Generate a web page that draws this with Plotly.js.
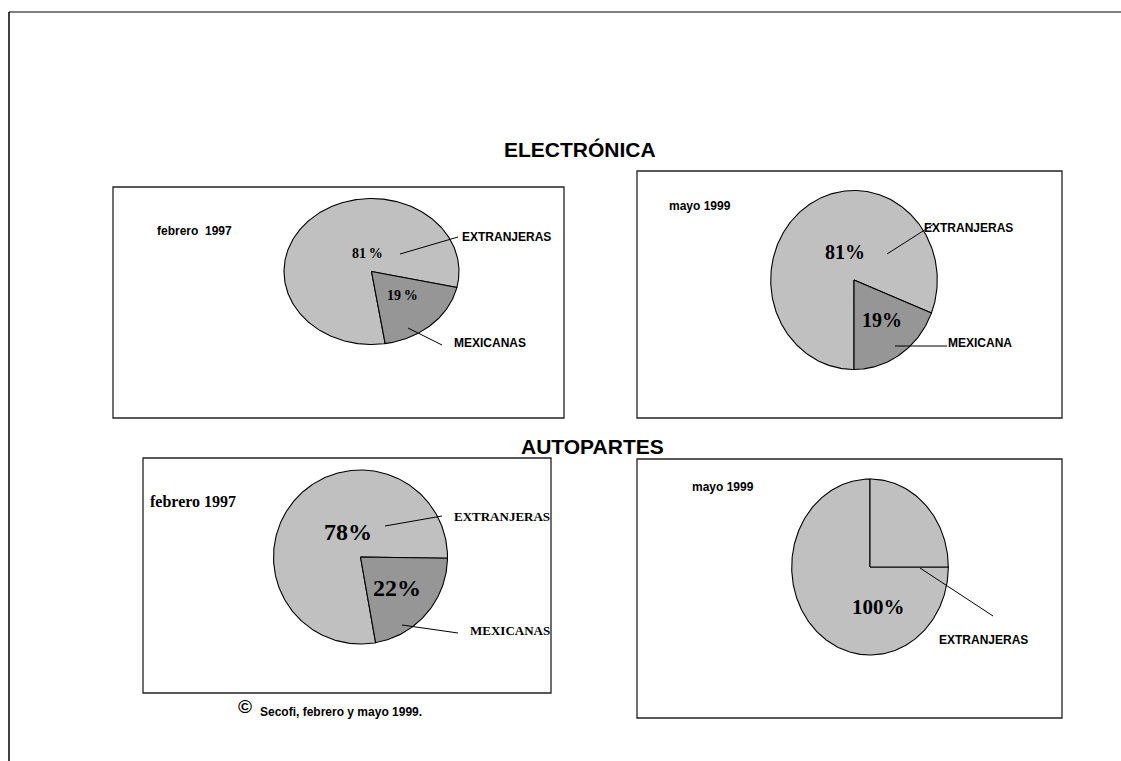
<!DOCTYPE html>
<html><head><meta charset="utf-8">
<script src="https://cdn.plot.ly/plotly-3.0.1.min.js"></script>
<style>html,body{margin:0;padding:0;background:#fff;overflow:hidden}#chart{width:1121px;height:761px}</style>
</head><body><div id="chart"></div>
<script>
// ---------- data ----------
const sectionTitles = ["ELECTRÓNICA", "AUTOPARTES"];
const periodLabels = ["febrero\u00a0\u00a01997", "mayo 1999", "febrero 1997", "mayo 1999"];
const elecFeb97Labels = ["EXTRANJERAS", "MEXICANAS"];
const elecFeb97Values = [81, 19];
const elecMay99Labels = ["EXTRANJERAS", "MEXICANA"];
const elecMay99Values = [81, 19];
const autoFeb97Labels = ["EXTRANJERAS", "MEXICANAS"];
const autoFeb97Values = [78, 22];
const autoMay99Labels = ["EXTRANJERAS", "EXTRANJERAS"];
const autoMay99Values = [75, 25];
const sourceSymbol = "©";
const sourceNote = "Secofi, febrero y mayo 1999.";

// ---------- style / layout ----------
const SANS = "Liberation Sans, Arial, sans-serif";
const SERIF = "Liberation Serif, Times New Roman, serif";
const LIGHT = "#c0c0c0", DARK = "#969696";
const colorFor = l => l.indexOf("EXTRANJ") === 0 ? LIGHT : DARK;

const panels = [
  {labels: elecFeb97Labels, values: elecFeb97Values, period: periodLabels[0],
   box: [113, 187, 564, 418], cx: 371.5, cy: 271.5, rx: 87.5, ry: 73, rot: 171,
   sep: "\u2009", pctFont: {family: SERIF, size: 14}, nameFont: {family: SANS, size: 12},
   periodFont: {family: SANS, size: 12}, periodPos: [155, 231],
   pctPos: [[367, 253], [402, 295]], namePos: [[460, 237], [452, 343]],
   leaders: [[400, 254, 458, 237], [408, 328, 442, 345]]},
  {labels: elecMay99Labels, values: elecMay99Values, period: periodLabels[1],
   box: [637, 171, 1062, 418], cx: 854, cy: 280, rx: 83.3, ry: 89.5, rot: 180,
   sep: "", pctFont: {family: SERIF, size: 20}, nameFont: {family: SANS, size: 12},
   periodFont: {family: SANS, size: 12}, periodPos: [667, 206],
   pctPos: [[845, 252], [882, 320]], namePos: [[922, 228], [946, 343]],
   leaders: [[887, 254, 934, 224], [895, 346, 947, 346]]},
  {labels: autoFeb97Labels, values: autoFeb97Values, period: periodLabels[2],
   box: [143, 458, 551, 693], cx: 360.5, cy: 557, rx: 87, ry: 87, rot: 170,
   sep: "", pctFont: {family: SERIF, size: 24}, nameFont: {family: SERIF, size: 13},
   periodFont: {family: SERIF, size: 16}, periodPos: [148, 501],
   pctPos: [[348, 532], [397, 588]], namePos: [[452, 516], [468, 630]],
   leaders: [[385, 526, 442, 516], [402, 625, 458, 633]]},
  {labels: autoMay99Labels, values: autoMay99Values, period: periodLabels[3],
   box: [637, 459, 1062, 718], cx: 870, cy: 567, rx: 78.3, ry: 88, rot: 90,
   sep: "", pctFont: {family: SERIF, size: 21}, nameFont: {family: SANS, size: 12},
   periodFont: {family: SANS, size: 12}, periodPos: [690, 487],
   pctPos: [[878, 607]], namePos: [[937, 640]],
   leaders: [[920, 568, 993, 616]]}
];

const traces = [];
const shapes = [];
const annotations = [];

// page frame
shapes.push({type: "line", xref: "x", yref: "y", x0: 9, y0: 12, x1: 1121, y1: 12, line: {color: "#808080", width: 2}});
shapes.push({type: "line", xref: "x", yref: "y", x0: 9, y0: 12, x1: 9, y1: 761, line: {color: "#000", width: 1.5}});

panels.forEach(p => {
  shapes.push({type: "rect", xref: "x", yref: "y", x0: p.box[0], y0: p.box[1], x1: p.box[2], y1: p.box[3],
    line: {color: "#222", width: 1.3}, fillcolor: "rgba(0,0,0,0)", layer: "below"});
  const total = p.values.reduce((a, b) => a + b, 0);
  let ang = p.rot;
  p.values.forEach((v, i) => {
    const span = v / total * 360;
    const xs = [p.cx], ys = [p.cy];
    const n = Math.max(2, Math.ceil(span));
    for (let k = 0; k <= n; k++) {
      const t = (ang + span * k / n) * Math.PI / 180;
      xs.push(p.cx + p.rx * Math.sin(t));
      ys.push(p.cy - p.ry * Math.cos(t));
    }
    xs.push(p.cx); ys.push(p.cy);
    traces.push({type: "scatter", mode: "lines", x: xs, y: ys, fill: "toself",
      fillcolor: colorFor(p.labels[i]), line: {color: "#000", width: 1.1},
      hoverinfo: "skip", showlegend: false});
    ang += span;
  });
  // unique labels with summed shares
  const uniq = [];
  p.labels.forEach((l, i) => {
    let u = uniq.find(e => e.label === l);
    if (!u) { u = {label: l, value: 0}; uniq.push(u); }
    u.value += p.values[i];
  });
  uniq.forEach((u, j) => {
    annotations.push({xref: "x", yref: "y", x: p.pctPos[j][0], y: p.pctPos[j][1], showarrow: false,
      xanchor: "center", yanchor: "middle",
      text: "<b>" + Math.round(u.value / total * 100) + p.sep + "%</b>",
      font: Object.assign({color: "#000"}, p.pctFont)});
    annotations.push({xref: "x", yref: "y", x: p.namePos[j][0], y: p.namePos[j][1], showarrow: false,
      xanchor: "left", yanchor: "middle", text: "<b>" + u.label + "</b>",
      font: Object.assign({color: "#000"}, p.nameFont)});
  });
  p.leaders.forEach(L => shapes.push({type: "line", xref: "x", yref: "y", x0: L[0], y0: L[1], x1: L[2], y1: L[3],
    line: {color: "#000", width: 1}, layer: "above"}));
  annotations.push({xref: "x", yref: "y", x: p.periodPos[0], y: p.periodPos[1], showarrow: false,
    xanchor: "left", yanchor: "middle", text: "<b>" + p.period + "</b>",
    font: Object.assign({color: "#000"}, p.periodFont)});
});

// section titles
annotations.push({xref: "x", yref: "y", x: 580, y: 149, showarrow: false, xanchor: "center", yanchor: "middle",
  text: "<b>" + sectionTitles[0] + "</b>", font: {family: SANS, size: 21, color: "#000"}});
annotations.push({xref: "x", yref: "y", x: 592, y: 446, showarrow: false, xanchor: "center", yanchor: "middle",
  text: "<b>" + sectionTitles[1] + "</b>", font: {family: SANS, size: 21, color: "#000"}});
// source
annotations.push({xref: "x", yref: "y", x: 245, y: 706, showarrow: false, xanchor: "center", yanchor: "middle",
  text: "<b>" + sourceSymbol + "</b>", font: {family: SANS, size: 19, color: "#000"}});
annotations.push({xref: "x", yref: "y", x: 258, y: 712, showarrow: false, xanchor: "left", yanchor: "middle",
  text: "<b>" + sourceNote + "</b>", font: {family: SANS, size: 12, color: "#000"}});

const layout = {
  width: 1121, height: 761, margin: {l: 0, r: 0, t: 0, b: 0, pad: 0},
  paper_bgcolor: "#fff", plot_bgcolor: "#fff", showlegend: false,
  xaxis: {range: [0, 1121], visible: false, fixedrange: true},
  yaxis: {range: [761, 0], visible: false, fixedrange: true},
  shapes: shapes, annotations: annotations
};
Plotly.newPlot("chart", traces, layout, {staticPlot: true, displayModeBar: false});
</script></body></html>
